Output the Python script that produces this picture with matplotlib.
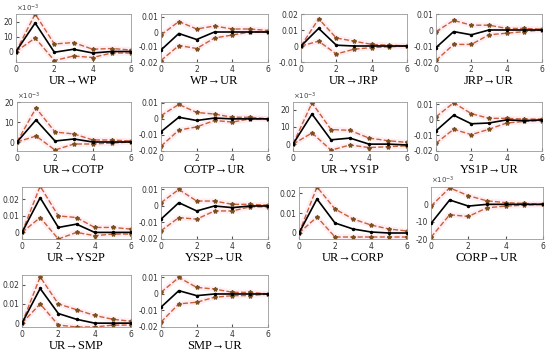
import matplotlib
matplotlib.use("Agg")
import matplotlib.pyplot as plt
import numpy as np

steps = np.arange(0, 7)

titles = ["UR→WP", "WP→UR", "UR→JRP", "JRP→UR",
          "UR→COTP", "COTP→UR", "UR→YS1P", "YS1P→UR",
          "UR→YS2P", "YS2P→UR", "UR→CORP", "CORP→UR",
          "UR→SMP", "SMP→UR"]

# impulse responses (panels with x10^-3 scale are stored in those units)
resp = [
    [0, 19, -0.5, 1.5, -1, 0, 0],
    [-0.012, -0.001, -0.005, 0, 0, 0, 0],
    [0, 0.011, 0.0005, 0, 0, 0, 0],
    [-0.011, -0.001, -0.003, 0, 0, 0, 0],
    [0, 11, 0.5, 1.5, 0, 0, 0],
    [-0.008, 0.001, -0.001, 0.0005, 0, 0, 0],
    [0, 17.5, 2.5, 3.5, 0, 0, -0.5],
    [-0.007, 0.003, -0.0025, -0.002, 0, -0.0005, 0],
    [0, 0.021, 0.003, 0.005, 0, 0, 0],
    [-0.008, 0.002, -0.003, 0, -0.001, 0, 0],
    [0, 0.017, 0.005, 0.002, 0.0005, 0, 0],
    [-11, 2.5, -1, 0, 0, 0, 0],
    [0, 0.018, 0.005, 0.002, 0, 0, 0],
    [-0.008, 0.002, -0.001, 0, 0, 0, 0],
]
upper = [
    [0, 25, 5, 6, 1.5, 2, 1],
    [-0.002, 0.007, 0.002, 0.004, 0.002, 0.002, 0.001],
    [0, 0.017, 0.005, 0.003, 0.001, 0.0005, 0],
    [-0.001, 0.006, 0.003, 0.003, 0.001, 0.001, 0.0005],
    [0, 17, 5, 4, 1, 1, 0.5],
    [0.002, 0.009, 0.004, 0.003, 0.001, 0.001, 0],
    [0, 24, 8.5, 8, 3.5, 2, 1],
    [0.002, 0.011, 0.004, 0.001, 0.001, 0.0005, 0.0005],
    [0, 0.028, 0.01, 0.009, 0.003, 0.003, 0.002],
    [0.002, 0.010, 0.003, 0.003, 0.001, 0.001, 0.0005],
    [0, 0.023, 0.012, 0.007, 0.004, 0.002, 0.001],
    [-1, 9.5, 5, 2, 1, 0.5, 0],
    [0, 0.024, 0.010, 0.007, 0.004, 0.002, 0.001],
    [0.001, 0.010, 0.004, 0.003, 0.001, 0.001, 0],
]
lower = [
    [0, 9, -6, -3, -4, -1, -1],
    [-0.019, -0.009, -0.011, -0.004, -0.002, 0, 0],
    [0, 0.003, -0.005, -0.002, -0.001, -0.0005, 0],
    [-0.019, -0.009, -0.009, -0.003, -0.002, -0.001, 0],
    [0, 3, -4, -1, -1, -0.5, 0],
    [-0.017, -0.007, -0.005, -0.001, -0.002, 0, 0],
    [0, 6.5, -3.5, -0.5, -2, -1.5, -1],
    [-0.015, -0.006, -0.0095, -0.006, -0.002, -0.001, -0.0005],
    [0, 0.009, -0.004, 0, -0.002, -0.001, -0.001],
    [-0.015, -0.007, -0.008, -0.003, -0.003, -0.0005, -0.0005],
    [0, 0.008, -0.002, -0.002, -0.002, -0.002, -0.002],
    [-19, -6, -7, -2, -1, -0.5, 0],
    [0, 0.010, -0.001, -0.002, -0.002, -0.001, -0.001],
    [-0.017, -0.006, -0.005, -0.002, -0.001, -0.001, 0],
]
scaled = [0, 4, 6, 11]
ylims = [(-7, 25), (-0.02, 0.012), (-0.01, 0.02), (-0.02, 0.01),
         (-4.5, 20), (-0.02, 0.0105), (-4, 24.5), (-0.02, 0.0115),
         (-0.004, 0.0275), (-0.02, 0.0115), (-0.003, 0.023), (-20, 10),
         (-0.002, 0.025), (-0.02, 0.0115)]
yticks = [[0, 10, 20], [-0.02, -0.01, 0, 0.01], [-0.01, 0, 0.01, 0.02], [-0.02, -0.01, 0, 0.01],
          [0, 10, 20], [-0.02, -0.01, 0, 0.01], [0, 10, 20], [-0.02, -0.01, 0, 0.01],
          [0, 0.01, 0.02], [-0.02, -0.01, 0, 0.01], [0, 0.01, 0.02], [-20, -10, 0],
          [0, 0.01, 0.02], [-0.02, -0.01, 0, 0.01]]

W, H = 550, 354
cols = [[(16, 131), (161, 268), (301, 407), (436, 542)],
        [(17, 131), (161, 268), (293, 407), (436, 542)],
        [(22, 131), (161, 268), (299, 407), (431, 543)],
        [(22, 131), (161, 268)]]
rows = [(14, 62), (102, 151), (187, 239), (275, 327)]

fig = plt.figure(figsize=(5.5, 3.54), dpi=100)
dash_c = '#c8603a'

k = 0
for r in range(len(rows)):
    top, bot = rows[r]
    for (x0, x1) in cols[r]:
        ax = fig.add_axes([x0 / W, 1 - bot / H, (x1 - x0) / W, (bot - top) / H])
        for band in (upper[k], lower[k]):
            ax.plot(steps, band, color='#ffb0c8', lw=4, alpha=0.2, zorder=1)
            ax.plot(steps, band, color=dash_c, lw=1.0, ls='--', marker='*',
                    ms=3, mfc='#7a5020', mec='#7a5020', zorder=2)
        ax.plot(steps, resp[k], color='k', lw=1.2, marker='.', ms=3, zorder=3)
        ax.set_xlim(0, 6)
        ax.set_ylim(*ylims[k])
        ax.set_xticks([0, 2, 4, 6])
        ax.set_yticks(yticks[k])
        ax.set_yticklabels(['%g' % v for v in yticks[k]])
        if k in scaled:
            ax.text(0.0, 1.01, r'$\times10^{-3}$', transform=ax.transAxes,
                    fontsize=5, color='#444444', va='bottom', ha='left')
        ax.tick_params(direction='in', length=2, labelsize=5.5, colors='#555555',
                       labelcolor='#333333', pad=2)
        for s in ax.spines.values():
            s.set_color('#999999')
            s.set_linewidth(0.6)
        ax.set_xlabel(titles[k], fontsize=9, family='Liberation Serif', labelpad=1)
        k += 1

fig.savefig("out.png", dpi=100)
